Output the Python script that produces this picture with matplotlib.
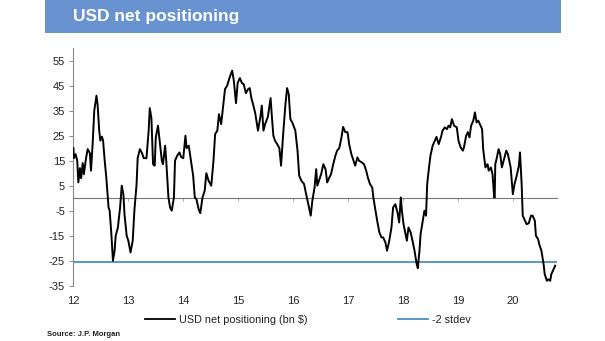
import matplotlib
matplotlib.use("Agg")
import matplotlib.pyplot as plt
from matplotlib.patches import Rectangle
from matplotlib.lines import Line2D

plt.rcParams['font.family'] = ['Liberation Sans', 'DejaVu Sans']

title = "USD net positioning"
source = "Source: J.P. Morgan"
series_label = "USD net positioning (bn $)"
stdev_label = "-2 stdev"
stdev_value = -25.5
yticks = [55, 45, 35, 25, 15, 5, -5, -15, -25, -35]
xticks = [12, 13, 14, 15, 16, 17, 18, 19, 20]

years = [
    12.00, 12.01, 12.04, 12.07, 12.09, 12.12, 12.14, 12.17, 12.19, 12.23,
    12.26, 12.30, 12.32, 12.35, 12.38, 12.42, 12.44, 12.47, 12.49, 12.52,
    12.54, 12.57, 12.60, 12.64, 12.66, 12.69, 12.72, 12.75, 12.77, 12.81,
    12.85, 12.88, 12.91, 12.93, 12.97, 13.00, 13.04, 13.08, 13.11, 13.15,
    13.17, 13.21, 13.25, 13.28, 13.33, 13.37, 13.39, 13.42, 13.45, 13.48,
    13.50, 13.54, 13.57, 13.61, 13.63, 13.67, 13.69, 13.73,
    13.76, 13.79, 13.83, 13.85, 13.89, 13.93, 13.96, 14.00, 14.04, 14.06,
    14.10, 14.14, 14.18, 14.21, 14.24, 14.28, 14.31, 14.35, 14.39, 14.42,
    14.46, 14.51, 14.55, 14.58, 14.62, 14.65, 14.69, 14.73, 14.76, 14.80,
    14.84, 14.89, 14.92, 14.96, 14.99, 15.03, 15.07, 15.10, 15.14, 15.18,
    15.21, 15.24, 15.27, 15.31, 15.36, 15.40, 15.43, 15.46, 15.49, 15.54,
    15.59, 15.61, 15.64, 15.67, 15.71, 15.75, 15.78, 15.82, 15.86, 15.89,
    15.92, 15.95, 15.99, 16.04, 16.08, 16.11, 16.15, 16.20, 16.23, 16.27,
    16.32, 16.35, 16.39, 16.42, 16.44, 16.48, 16.51, 16.55, 16.59, 16.62,
    16.66, 16.69, 16.73, 16.77, 16.80, 16.84, 16.88, 16.91, 16.95, 16.99,
    17.02, 17.06, 17.10, 17.13, 17.17, 17.20, 17.25, 17.29, 17.33,
    17.36, 17.40, 17.44, 17.46, 17.50, 17.53, 17.57, 17.61, 17.64, 17.68,
    17.71, 17.75, 17.79, 17.82, 17.86, 17.90, 17.93, 17.96, 17.98, 18.01,
    18.04, 18.07, 18.10, 18.14, 18.18, 18.21, 18.25, 18.27, 18.30, 18.32,
    18.36, 18.39, 18.42, 18.44, 18.47, 18.50, 18.54, 18.58, 18.61, 18.65,
    18.69, 18.72, 18.76, 18.80, 18.83, 18.86, 18.89, 18.93, 18.98, 19.01,
    19.05, 19.09, 19.11, 19.15, 19.18, 19.21, 19.24, 19.28, 19.31, 19.34,
    19.37, 19.40, 19.44, 19.46, 19.50, 19.54, 19.56, 19.60, 19.63, 19.66,
    19.67, 19.68, 19.71, 19.74, 19.77, 19.80, 19.84, 19.88, 19.91, 19.96,
    20.00, 20.03, 20.07, 20.11, 20.13, 20.16, 20.18, 20.22, 20.25, 20.29,
    20.33, 20.36, 20.40, 20.42, 20.46, 20.48, 20.52, 20.56, 20.58, 20.62,
    20.65, 20.68, 20.70, 20.74, 20.77,
]
positioning = [
    20.0, 16.0, 17.6, 15.0, 6.3, 12.0, 8.0, 14.0, 9.6, 16.0,
    19.6, 18.0, 11.0, 21.6, 35.0, 41.0, 37.6, 27.0, 23.0, 24.6,
    23.0, 15.0, 8.0, -3.7, -5.0, -14.0, -25.0, -21.0, -15.0, -11.7,
    -3.7, 5.0, 1.6, -6.4, -15.0, -17.0, -21.7, -17.0, -5.0, 5.6,
    16.0, 19.6, 18.0, 16.0, 16.0, 27.0, 36.0, 32.0, 13.6, 13.0,
    24.3, 29.0, 23.0, 15.0, 13.6, 21.0, 15.0, 0.3,
    -3.7, -5.0, 0.3, 15.0, 17.0, 18.3, 16.5, 16.0, 25.0, 20.0,
    21.0, 15.0, 9.0, 0.3, -0.4, -4.4, -6.0, 0.3, 3.0, 10.0,
    7.0, 5.0, 15.0, 25.6, 27.0, 33.6, 29.6, 37.6, 43.6, 45.0,
    48.0, 51.0, 47.0, 38.0, 46.0, 48.0, 46.0, 45.6, 42.0, 43.6,
    44.0, 40.0, 37.6, 34.0, 27.0, 32.0, 37.0, 27.0, 29.6, 32.5,
    40.0, 33.6, 25.0, 23.0, 21.6, 20.0, 13.0, 26.0, 37.6, 44.0,
    41.6, 31.6, 30.0, 27.0, 19.0, 9.0, 7.0, 5.6, 2.3, -1.7,
    -7.0, -1.0, 4.3, 11.6, 5.0, 7.6, 9.6, 13.6, 11.6, 6.3,
    8.3, 9.6, 13.6, 17.0, 19.0, 20.0, 24.3, 28.5, 26.4, 26.4,
    21.6, 17.6, 15.0, 13.0, 16.3, 15.0, 14.3, 13.6, 11.0,
    8.3, 5.6, 4.3, 0.3, -5.0, -9.0, -13.7, -15.7, -15.7, -17.7,
    -21.0, -17.0, -11.7, -3.7, -2.4, -5.7, -9.7, 0.3, -5.0, -10.4,
    -13.7, -17.0, -11.7, -13.7, -17.7, -21.0, -26.4, -28.0, -21.0, -14.4,
    -9.0, -5.0, -7.0, 5.6, 11.6, 17.0, 21.0, 23.0, 24.5, 21.6,
    24.3, 27.0, 28.3, 27.6, 29.0, 28.3, 31.6, 29.0, 28.3, 23.0,
    20.3, 19.0, 20.3, 25.0, 26.4, 24.3, 29.0, 31.0, 34.3, 30.3,
    31.0, 29.6, 27.6, 19.6, 12.3, 13.6, 11.0, 12.3, 9.6, 0.3,
    0.3, 13.6, 16.3, 19.6, 17.6, 12.3, 15.6, 19.0, 17.6, 12.3,
    1.6, 5.6, 9.0, 13.0, 18.3, 5.6, -7.0, -9.0, -10.4, -10.0,
    -7.0, -7.0, -9.0, -15.0, -16.4, -18.4, -21.0, -26.4, -30.4, -33.0,
    -32.4, -33.0, -30.4, -28.4, -27.0,
]

fig = plt.figure(figsize=(6.05, 3.41), dpi=100)
fig.patch.set_facecolor('white')

# header band
fig.patches.append(Rectangle((45/605, 1-33/341), (561-45)/605, 33/341,
                             transform=fig.transFigure, facecolor='#6892d0',
                             edgecolor='none', zorder=0))
fig.text(73/605, 1-16/341, title, color='white', fontsize=12.5,
         fontweight='bold', va='center', ha='left',
         family=['Liberation Sans Narrow', 'Liberation Sans', 'DejaVu Sans'])

ax = fig.add_axes([73.4/605, 0.162, (556.8-73.4)/605, 0.697])
line_main, = ax.plot(years, positioning, color='black', lw=1.4, zorder=3)
line_sd = ax.axhline(stdev_value, color='#4a90c0', lw=1.3, zorder=2)

ax.set_xlim(12, 20.8)
ax.set_ylim(-35, 60)
ax.set_yticks(yticks)
ax.set_yticklabels([str(v) for v in yticks])
ax.tick_params(axis='y', length=3, width=0.6, color='#777777',
               labelsize=8, labelcolor='#222222', pad=3)

for s in ['top', 'right']:
    ax.spines[s].set_visible(False)
ax.spines['left'].set_color('#888888')
ax.spines['left'].set_linewidth(0.8)
ax.spines['bottom'].set_position(('data', 0))
ax.spines['bottom'].set_color('#777777')
ax.spines['bottom'].set_linewidth(0.8)
ax.set_xticks(xticks)
ax.tick_params(axis='x', length=2.5, width=0.6, color='#999999',
               labelbottom=False)

sec = ax.secondary_xaxis(0)
sec.set_xticks(xticks)
sec.set_xticklabels([str(v) for v in xticks])
sec.tick_params(axis='x', length=0, labelsize=8, labelcolor='#222222', pad=7.5)
sec.spines['bottom'].set_visible(False)

handles = [Line2D([], [], color='black', lw=1.3),
           Line2D([], [], color='#4a90c0', lw=1.3)]
fig.legend(handles, [series_label, stdev_label], ncol=2, frameon=False,
           loc='center left', bbox_to_anchor=(145/605, 21/341),
           borderpad=0, borderaxespad=0, handlelength=2.8,
           handletextpad=0.3, columnspacing=8.4, fontsize=7.8,
           labelcolor='#222222')

fig.text(47/605, 7/341, source, fontsize=5.5, fontweight='bold',
         color='#222222', va='center', ha='left')

fig.savefig('out.png', dpi=100)
